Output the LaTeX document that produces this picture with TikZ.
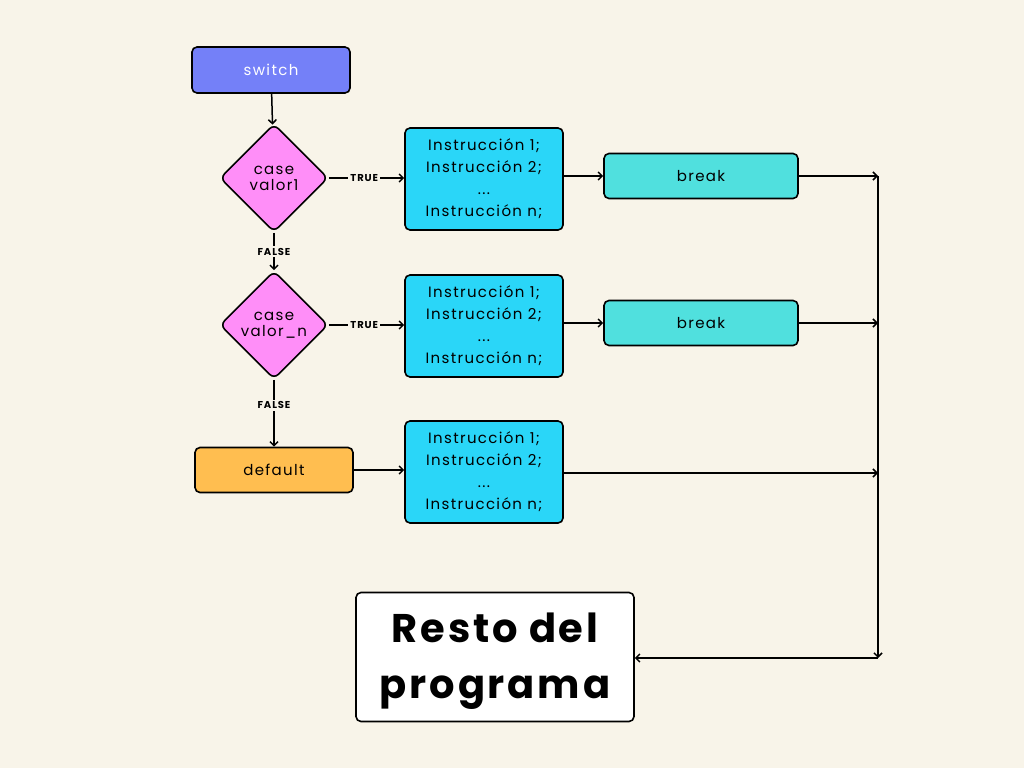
\documentclass[tikz,border=0pt]{standalone}
\usepackage{fontspec}
\setmainfont[LetterSpace=9]{Poppins}
\usetikzlibrary{shapes.geometric,arrows.meta}
\definecolor{bg}{RGB}{248,244,233}
\definecolor{cswitch}{RGB}{116,128,248}
\definecolor{ccase}{RGB}{255,142,248}
\definecolor{cdef}{RGB}{255,190,80}
\definecolor{cinst}{RGB}{42,214,248}
\definecolor{cbreak}{RGB}{80,224,222}
\begin{document}
\begin{tikzpicture}[x=1pt,y=-1pt,
  box/.style={draw=black,line width=1.6pt,rounded corners=5pt,align=center,inner sep=0pt},
  casebox/.style={draw=black,line width=1.6pt,diamond,fill=ccase,minimum width=108pt,minimum height=108pt,rounded corners=6pt,align=center,inner sep=0pt,font=\fontsize{15}{18}\selectfont},
  instbox/.style={box,fill=cinst,minimum width=158pt,minimum height=102pt,font=\fontsize{15}{22}\selectfont},
  breakbox/.style={box,fill=cbreak,minimum width=194pt,minimum height=45pt,font=\fontsize{15}{18}\selectfont},
  lab/.style={fill=bg,inner sep=2pt,font=\bfseries\fontsize{10}{11}\selectfont},
  conn/.style={line width=1.5pt,-{Straight Barb[length=4pt,width=8pt]}}]
\fill[bg] (0,0) rectangle (1024,768);
\useasboundingbox (0,0) rectangle (1024,768);

\node[box,fill=cswitch,text=white,minimum width=158pt,minimum height=46pt,font=\fontsize{15}{18}\selectfont] (sw) at (271,70) {switch};
\node[casebox] (c1) at (274,178) {case\\[-2pt]valor1};
\node[casebox] (c2) at (274,325) {case\\[-2pt]valor\_n};
\node[box,fill=cdef,minimum width=158pt,minimum height=45pt,font=\fontsize{15}{18}\selectfont] (df) at (274,470) {default};

\node[instbox] (i1) at (484,179) {Instrucción 1;\\Instrucción 2;\\...\\Instrucción n;};
\node[instbox] (i2) at (484,326) {Instrucción 1;\\Instrucción 2;\\...\\Instrucción n;};
\node[instbox] (i3) at (484,472) {Instrucción 1;\\Instrucción 2;\\...\\Instrucción n;};

\node[breakbox] (b1) at (701,176) {break};
\node[breakbox] (b2) at (701,323) {break};

\node[box,fill=white,minimum width=278pt,minimum height=129pt] (rp) at (495,657) {};
\node[align=center,inner sep=0pt,font=\bfseries\fontsize{40}{56}\selectfont\addfontfeature{LetterSpace=7}] (rptext) at (495,661) {Resto del\\programa};

\coordinate (j1) at (878,176);
\coordinate (j2) at (878,323);
\coordinate (j3) at (878,473);
\coordinate (j4) at (878,658);

\draw[conn] (sw) -- (c1);
\draw[conn] (c1) -- node[lab]{FALSE} (c2);
\draw[conn] (c2) -- node[lab,pos=0.38]{FALSE} (df);
\draw[conn] (c1.east) -- node[lab,pos=0.47]{TRUE} (i1.west |- c1.east);
\draw[conn] (c2.east) -- node[lab,pos=0.47]{TRUE} (i2.west |- c2.east);
\draw[conn] (df.east) -- (i3.west |- df.east);
\draw[conn] (i1.east |- b1) -- (b1.west);
\draw[conn] (i2.east |- b2) -- (b2.west);
\draw[conn] (b1.east) -- (j1);
\draw[conn] (b2.east) -- (j2);
\draw[conn] (i3.east |- j3) -- (j3);
\draw[conn] (j1) -- (j4);
\draw[conn] (j4) -- (rp.east |- j4);
\end{tikzpicture}
\end{document}
